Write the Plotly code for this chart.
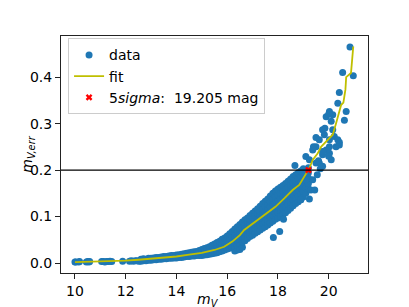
import plotly.graph_objects as go

# ---- data ----
sparse_mag = [10.00, 10.03, 10.15, 10.18, 10.45, 10.50, 10.55, 10.58, 11.05, 11.12, 11.18, 11.25,
              11.32, 11.38, 11.45, 11.88, 12.15, 12.22, 12.30, 12.38, 12.45, 12.52]
sparse_err = [0.002, 0.002, 0.002, 0.003, 0.002, 0.003, 0.002, 0.003, 0.003, 0.003, 0.002, 0.003,
              0.003, 0.004, 0.003, 0.004, 0.004, 0.005, 0.004, 0.005, 0.005, 0.004]

band_mag = [12.6, 12.7, 12.8, 12.9, 13.0, 13.1, 13.2, 13.3, 13.4, 13.5, 13.6, 13.7, 13.8, 13.9,
            14.0, 14.1, 14.2, 14.3, 14.4, 14.5, 14.6, 14.7, 14.8, 14.9,
            15.0, 15.1, 15.2, 15.3, 15.4, 15.5, 15.6, 15.7, 15.8, 15.9,
            16.0, 16.1, 16.2, 16.3, 16.4, 16.5, 16.6, 16.7, 16.8, 16.9,
            17.0, 17.1, 17.2, 17.3, 17.4, 17.5, 17.6, 17.7, 17.8, 17.9,
            18.0, 18.1, 18.2, 18.3, 18.4, 18.5, 18.6, 18.7, 18.8, 18.9,
            19.0, 19.1, 19.2]
band_err = [
    [0.004, 0.008], [0.005, 0.009], [0.005, 0.008], [0.006, 0.010], [0.006, 0.010],
    [0.007, 0.011], [0.007, 0.012], [0.008, 0.012], [0.008, 0.013], [0.009, 0.014],
    [0.009, 0.014], [0.010, 0.015], [0.010, 0.016], [0.011, 0.016],
    [0.011, 0.017], [0.012, 0.018], [0.012, 0.019], [0.013, 0.020], [0.014, 0.021],
    [0.014, 0.022], [0.015, 0.023], [0.015, 0.024], [0.016, 0.025], [0.016, 0.027],
    [0.016, 0.022, 0.029], [0.017, 0.023, 0.031], [0.018, 0.025, 0.033], [0.019, 0.026, 0.035],
    [0.020, 0.028, 0.038], [0.021, 0.029, 0.035, 0.041], [0.022, 0.028, 0.035, 0.044],
    [0.024, 0.031, 0.039, 0.047], [0.026, 0.034, 0.042, 0.051], [0.028, 0.036, 0.045, 0.054],
    [0.030, 0.039, 0.048, 0.058], [0.032, 0.042, 0.052, 0.063], [0.034, 0.045, 0.056, 0.068],
    [0.026, 0.036, 0.046, 0.056, 0.065, 0.073], [0.028, 0.038, 0.048, 0.058, 0.068, 0.078],
    [0.029, 0.040, 0.051, 0.062, 0.072, 0.083], [0.034, 0.045, 0.056, 0.066, 0.077, 0.088],
    [0.048, 0.057, 0.066, 0.075, 0.084, 0.093], [0.053, 0.062, 0.071, 0.080, 0.089, 0.097],
    [0.057, 0.066, 0.075, 0.084, 0.093, 0.102],
    [0.060, 0.070, 0.079, 0.088, 0.098, 0.107], [0.064, 0.074, 0.083, 0.093, 0.102, 0.112],
    [0.067, 0.077, 0.087, 0.097, 0.107, 0.117], [0.071, 0.081, 0.091, 0.102, 0.112, 0.122],
    [0.075, 0.086, 0.096, 0.107, 0.117, 0.128], [0.078, 0.089, 0.100, 0.111, 0.122, 0.133],
    [0.082, 0.093, 0.104, 0.116, 0.127, 0.138], [0.086, 0.098, 0.109, 0.121, 0.132, 0.144],
    [0.090, 0.102, 0.114, 0.126, 0.138, 0.150], [0.094, 0.106, 0.118, 0.131, 0.143, 0.155],
    [0.097, 0.109, 0.122, 0.134, 0.147, 0.159], [0.100, 0.113, 0.125, 0.138, 0.150, 0.163],
    [0.104, 0.117, 0.129, 0.142, 0.154, 0.167], [0.108, 0.121, 0.133, 0.146, 0.158, 0.171],
    [0.113, 0.126, 0.138, 0.151, 0.163, 0.176], [0.118, 0.131, 0.143, 0.156, 0.168, 0.181],
    [0.123, 0.136, 0.148, 0.161, 0.173, 0.186], [0.128, 0.140, 0.153, 0.165, 0.178, 0.190],
    [0.132, 0.144, 0.157, 0.169, 0.182, 0.194], [0.136, 0.148, 0.161, 0.173, 0.186, 0.198],
    [0.142, 0.154, 0.166, 0.179, 0.191, 0.203], [0.150, 0.162, 0.174, 0.185, 0.196],
    [0.160, 0.171, 0.183, 0.194, 0.205],
]

outlier_mag = [17.82, 18.07, 18.22, 18.67, 18.97, 19.24, 19.30, 19.45, 19.37, 19.04, 18.90, 19.10,
               19.10, 19.24, 19.37, 19.50, 19.50, 19.63, 19.63, 19.67, 19.76, 19.76, 19.76, 19.83,
               19.90, 19.90, 20.03, 20.03, 20.03, 20.03, 20.10, 20.10, 20.16, 20.16, 20.22, 20.29,
               20.36, 20.36, 20.42, 20.42, 20.55, 20.62, 20.69, 20.84, 20.97, 19.85, 20.00, 20.00,
               19.60, 19.40, 19.50, 19.55, 19.76, 20.42]
outlier_err = [0.055, 0.068, 0.094, 0.210, 0.197, 0.138, 0.157, 0.157, 0.179, 0.179, 0.136, 0.229,
               0.179, 0.222, 0.243, 0.250, 0.215, 0.265, 0.215, 0.203, 0.287, 0.233, 0.208, 0.276,
               0.315, 0.243, 0.326, 0.265, 0.250, 0.236, 0.305, 0.222, 0.319, 0.287, 0.272, 0.250,
               0.265, 0.344, 0.254, 0.367, 0.410, 0.307, 0.326, 0.465, 0.403, 0.290, 0.320, 0.230,
               0.220, 0.250, 0.270, 0.190, 0.240, 0.260]

fit_mag = [10.0, 11.0, 12.0, 12.5, 13.0, 13.5, 14.0, 14.5, 15.0, 15.5, 15.88, 16.2, 16.5, 16.67,
           17.0, 17.46, 17.9, 18.25, 18.58, 18.84, 19.1, 19.24, 19.37, 19.45, 19.57, 19.7, 19.9,
           20.0, 20.16, 20.29, 20.35, 20.42, 20.49, 20.58, 20.66, 20.69, 20.88, 20.97]
fit_err = [0.002, 0.003, 0.005, 0.007, 0.009, 0.011, 0.014, 0.018, 0.022, 0.028, 0.035, 0.046,
           0.060, 0.071, 0.084, 0.103, 0.121, 0.139, 0.157, 0.168, 0.193, 0.204, 0.222, 0.228,
           0.236, 0.250, 0.261, 0.265, 0.276, 0.300, 0.312, 0.326, 0.340, 0.345, 0.373, 0.400,
           0.409, 0.466]

limit_mag = [19.205]
limit_err = [0.2]
limit_label = "5<i>sigma</i>:  19.205 mag"

x_ticks = [10, 12, 14, 16, 18, 20]
y_ticks = [0.0, 0.1, 0.2, 0.3, 0.4]

# ---- assemble scatter ----
data_mag = list(sparse_mag)
data_err = list(sparse_err)
for m, errs in zip(band_mag, band_err):
    for e in errs:
        data_mag.append(m)
        data_err.append(e)
data_mag += outlier_mag
data_err += outlier_err

FONT = "DejaVu Sans"

fig = go.Figure()
fig.add_trace(go.Scatter(x=data_mag, y=data_err, mode="markers", name="data",
                         marker=dict(color="#1f77b4", size=7, line=dict(width=0))))
fig.add_trace(go.Scatter(x=fit_mag, y=fit_err, mode="lines", name="fit",
                         line=dict(color="#bfbf00", width=1.8)))
fig.add_trace(go.Scatter(x=limit_mag, y=limit_err, mode="markers", name=limit_label,
                         marker=dict(color="red", symbol="x", size=6, line=dict(width=0))))
fig.add_hline(y=0.2, line=dict(color="black", width=1.3), layer="above")

# axis titles (matplotlib mathtext look) as annotations for exact placement
fig.add_annotation(text="<i>m<sub>V</sub></i>", xref="paper", yref="paper",
                   x=0.478, y=-0.112, xanchor="center", yanchor="middle", showarrow=False,
                   font=dict(family=FONT, size=14, color="black"))
fig.add_annotation(text="<i>m<sub>V,err</sub></i>", xref="paper", yref="paper",
                   x=-0.11, y=0.5, xanchor="center", yanchor="middle", showarrow=False,
                   textangle=-90, font=dict(family=FONT, size=14, color="black"))

fig.update_layout(
    width=409, height=307,
    margin=dict(l=61, r=41, t=36, b=34),
    paper_bgcolor="white", plot_bgcolor="white",
    font=dict(family=FONT, size=14, color="black"),
    showlegend=True,
    legend=dict(x=0.023, y=0.99, xanchor="left", yanchor="top",
                bgcolor="rgba(255,255,255,0.8)", bordercolor="#cccccc", borderwidth=1,
                font=dict(family=FONT, size=14), tracegroupgap=0, itemwidth=30),
    xaxis=dict(range=[9.45, 21.55], tickvals=x_ticks, ticktext=[str(t) for t in x_ticks],
               showgrid=False, zeroline=False, showline=True, mirror=True, automargin=False,
               linecolor="#222222", linewidth=1, ticks="outside", ticklen=5, tickwidth=1,
               tickcolor="#222222"),
    yaxis=dict(range=[-0.0215, 0.4885], tickvals=y_ticks, ticktext=[f"{t:.1f}" for t in y_ticks],
               showgrid=False, zeroline=False, showline=True, mirror=True, automargin=False,
               linecolor="#222222", linewidth=1, ticks="outside", ticklen=5, tickwidth=1,
               tickcolor="#222222"),
)

fig.write_html("out.html", config={"displayModeBar": False},
               post_script="document.body.style.margin='0';")
